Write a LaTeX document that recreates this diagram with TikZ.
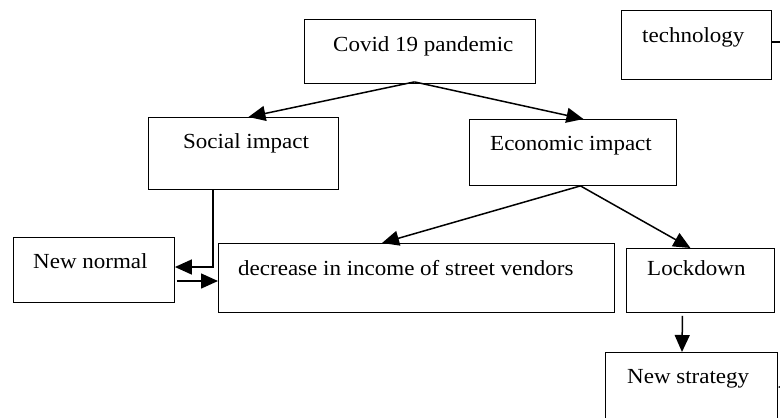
\documentclass[tikz,border=0pt]{standalone}
\usepackage{fontspec}
\setmainfont[FakeStretch=1.07]{Liberation Serif}
\usetikzlibrary{arrows.meta,calc}
\begin{document}
\begin{tikzpicture}[x=1pt,y=-1pt,
  box/.style={draw=black, line width=0.9pt, rectangle, anchor=north west, inner sep=0pt},
  lbl/.style={anchor=base west, inner sep=0pt, font=\fontsize{21.5}{24}\selectfont},
  conn/.style={line width=1.5pt, -{Triangle[length=17pt,width=15pt]}}]
\useasboundingbox (0,0) rectangle (780,418);
\clip (0,0) rectangle (780,418);
\fill[white] (0,0) rectangle (780,418);
% boxes
\node[box, minimum width=231pt, minimum height=64pt] (covid) at (304,19) {};
\node[box, minimum width=150pt, minimum height=69pt] (tech) at (621,10) {};
\node[box, minimum width=190pt, minimum height=72pt] (social) at (148,117) {};
\node[box, minimum width=207pt, minimum height=66pt] (econ) at (469,119) {};
\node[box, minimum width=161pt, minimum height=65pt] (newnormal) at (13,237) {};
\node[box, minimum width=396pt, minimum height=69pt] (decrease) at (218,243) {};
\node[box, minimum width=148pt, minimum height=64pt] (lockdown) at (626,248) {};
\node[box, minimum width=172pt, minimum height=90pt] (strategy) at (605,352) {};
% texts
\node[lbl] (tcovid) at (333,51) {Covid 19 pandemic};
\node[lbl] (ttech) at (642,42) {technology};
\node[lbl] (tsocial) at (183,148) {Social impact};
\node[lbl] (tecon) at (490,150) {Economic impact};
\node[lbl] (tnew) at (33,268) {New normal};
\node[lbl] (tdec) at (238,275) {decrease in income of street vendors};
\node[lbl] (tlock) at (647,275) {Lockdown};
\node[lbl] (tstrat) at (627,383) {New strategy};
% connectors
\coordinate (covidout) at ($(covid.south)+(-5.5,-2)$);
\draw[conn] (covidout) -- ($(social.north)+(5,0)$);
\draw[conn] (covidout) -- ($(econ.north)+(10.5,0)$);
\coordinate (econout) at ($(econ.south)+(7.5,0)$);
\draw[conn] (econout) -- ($(decrease.north west)+(164,0)$);
\draw[conn] (econout) -- ($(lockdown.north)+(-10,0)$);
\draw[conn] ($(social.south west)+(65,0)$) |- ($(newnormal.north east)+(0,30)$);
\draw[conn] ($(newnormal.north east)+(2,44)$) -- ($(decrease.north west)+(0,38)$);
\draw[conn] ($(lockdown.south)+(-18,3)$) -- ($(strategy.north west)+(77,0)$);
\coordinate (techout) at ($(tech.north east)+(0,32)$);
\coordinate (rightrail) at (790,42);
\draw[conn] (techout) -- (rightrail) |- ($(strategy.north east)+(0,35)$);
\end{tikzpicture}
\end{document}
